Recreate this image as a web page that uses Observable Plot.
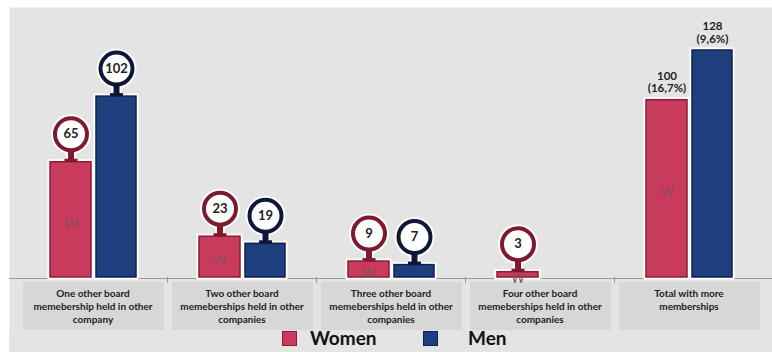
<!DOCTYPE html>
<html>
<head>
<meta charset="utf-8">
<script src="https://cdn.jsdelivr.net/npm/d3@7"></script>
<script src="https://cdn.jsdelivr.net/npm/@observablehq/plot@0.6"></script>
<style>
  body { margin: 0; background: #ffffff; font-family: Lato, "Open Sans", sans-serif; }
  #chart svg { display: block; }
  #legend { position: relative; margin-left: 9px; width: 763px; height: 22px; background: #e4e4e4; }
  #legend .sw { position: absolute; top: 1px; width: 13px; height: 13px; border: 1px solid; }
  #legend .lb { position: absolute; top: -4px; font-family: Lato, sans-serif; font-weight: bold; font-size: 19px; color: #111; }
</style>
</head>
<body>
<div id="chart"></div>
<div id="legend"></div>
<script>
const groups = [
  "One other board\nmemebership held in other\ncompany",
  "Two other board\nmemeberships held in other\ncompanies",
  "Three other board\nmemeberships held in other\ncompanies",
  "Four other board\nmemeberships held in other\ncompanies",
  "Total with more\nmemberships"
];
const women = [65, 23, 9, 3, 100];
const men = [102, 19, 7, 0, 128];
const totalPercentWomen = "16,7%";
const totalPercentMen = "9,6%";
const sexes = ["Women", "Men"];

const colors = {
  Women: {fill: "#c93b5d", edge: "#8a1c36", ring: "#7e1a30"},
  Men: {fill: "#1d3f7e", edge: "#0f2250", ring: "#0e1735"}
};

const rows = [];
groups.forEach((g, i) => {
  rows.push({group: g, sex: "Women", value: women[i], total: i === groups.length - 1, pct: totalPercentWomen});
  rows.push({group: g, sex: "Men", value: men[i], total: i === groups.length - 1, pct: totalPercentMen});
});
const W = rows.filter(d => d.sex === "Women" && d.value > 0);
const M = rows.filter(d => d.sex === "Men" && d.value > 0);
const Wc = W.filter(d => !d.total);
const Mc = M.filter(d => !d.total);
const Wt = W.filter(d => d.total);
const Mt = M.filter(d => d.total);

const wBar = {insetLeft: 32, insetRight: 76};
const mBar = {insetLeft: 78, insetRight: 31};
const wdx = -22, mdx = 23.5;

function bubble(data, sex, dx) {
  return [
    Plot.ruleX(data, {x: "group", y1: "value", y2: "value", insetTop: -14, insetBottom: 0, stroke: "white", strokeWidth: 10, dx}),
    Plot.dot(data, {x: "group", y: "value", r: 20, fill: "white", dx, dy: -28}),
  ];
}
function bubbleFront(data, sex, dx) {
  const c = colors[sex];
  return [
    Plot.ruleX(data, {x: "group", y1: "value", y2: "value", insetTop: -14, stroke: c.ring, strokeWidth: 6, dx}),
    Plot.ruleX(data, {x: "group", y1: "value", y2: "value", insetTop: -3, stroke: c.ring, strokeWidth: 13, dx}),
    Plot.dot(data, {x: "group", y: "value", r: 16, fill: "white", stroke: c.ring, strokeWidth: 4, dx, dy: -28}),
    Plot.text(data, {x: "group", y: "value", text: d => String(d.value), dx, dy: -28, fontSize: 13, fontWeight: "bold", fill: "#222", fontFamily: "Lato"})
  ];
}

const chart = Plot.plot({
  width: 772,
  height: 330,
  marginLeft: 9,
  marginTop: 7,
  marginRight: 0,
  marginBottom: 0,
  style: {background: "transparent", fontFamily: "Lato, sans-serif"},
  x: {type: "band", domain: groups, range: [18, 763], padding: 0, axis: null},
  y: {domain: [0, 128], range: [277, 50], axis: null},
  marks: [
    Plot.frame({fill: "#e4e4e4"}),
    // category label boxes
    Plot.barY(groups, {x: d => d, y1: 0, y2: 0, insetTop: 5, insetBottom: -53, insetLeft: 5, insetRight: 3, fill: "#d7d7d7"}),
    // baseline and separators
    Plot.ruleY([0], {stroke: "#9a9a9a", strokeWidth: 1, dy: 1}),
    Plot.ruleX(groups.slice(1), {x: d => d, y1: 0, y2: 0, insetTop: 0, insetBottom: -6, stroke: "#9a9a9a", dx: -74.5}),
    // halos
    Plot.barY(W, {x: "group", y: "value", ...wBar, fill: "white", stroke: "white", strokeWidth: 5}),
    Plot.barY(M, {x: "group", y: "value", ...mBar, fill: "white", stroke: "white", strokeWidth: 5}),
    ...bubble(Wc, "Women", wdx),
    ...bubble(Mc, "Men", mdx),
    // bars
    Plot.barY(W, {x: "group", y: "value", ...wBar, fill: colors.Women.fill, stroke: colors.Women.edge, strokeWidth: 1.5}),
    Plot.barY(M, {x: "group", y: "value", ...mBar, fill: colors.Men.fill, stroke: colors.Men.edge, strokeWidth: 1.5}),
    ...bubbleFront(Wc, "Women", wdx),
    ...bubbleFront(Mc, "Men", mdx),
    // "W" marks in women bars
    Plot.text(W, {x: "group", y: d => d.value / 2, text: () => "W", dx: wdx, dy: 4, fontSize: 13, fill: "#8a4d5f", fontFamily: "Lato"}),
    // total labels
    Plot.text(Wt, {x: "group", y: "value", text: d => `${d.value}\n(${d.pct})`, dx: wdx, dy: -8, lineAnchor: "bottom", fontSize: 11.5, fontWeight: "bold", fill: "#222", lineHeight: 1.1}),
    Plot.text(Mt, {x: "group", y: "value", text: d => `${d.value}\n(${d.pct})`, dx: mdx, dy: -8, lineAnchor: "bottom", fontSize: 11.5, fontWeight: "bold", fill: "#222", lineHeight: 1.1}),
    // category labels
    Plot.text(groups, {x: d => d, y: 0, text: d => d, lineAnchor: "top", dy: 10, fontSize: 10, fontWeight: "bold", fill: "#222", lineHeight: 1.32, fontFamily: "Lato"})
  ]
});
document.getElementById("chart").appendChild(chart);

const legend = document.getElementById("legend");
const legendPos = {Women: {sw: 273, lb: 301}, Men: {sw: 414, lb: 459}};
sexes.forEach(s => {
  const sw = document.createElement("div");
  sw.className = "sw";
  sw.style.left = legendPos[s].sw + "px";
  sw.style.background = colors[s].fill;
  sw.style.borderColor = colors[s].edge;
  legend.appendChild(sw);
  const lb = document.createElement("div");
  lb.className = "lb";
  lb.style.left = legendPos[s].lb + "px";
  lb.textContent = s;
  legend.appendChild(lb);
});
</script>
</body>
</html>
